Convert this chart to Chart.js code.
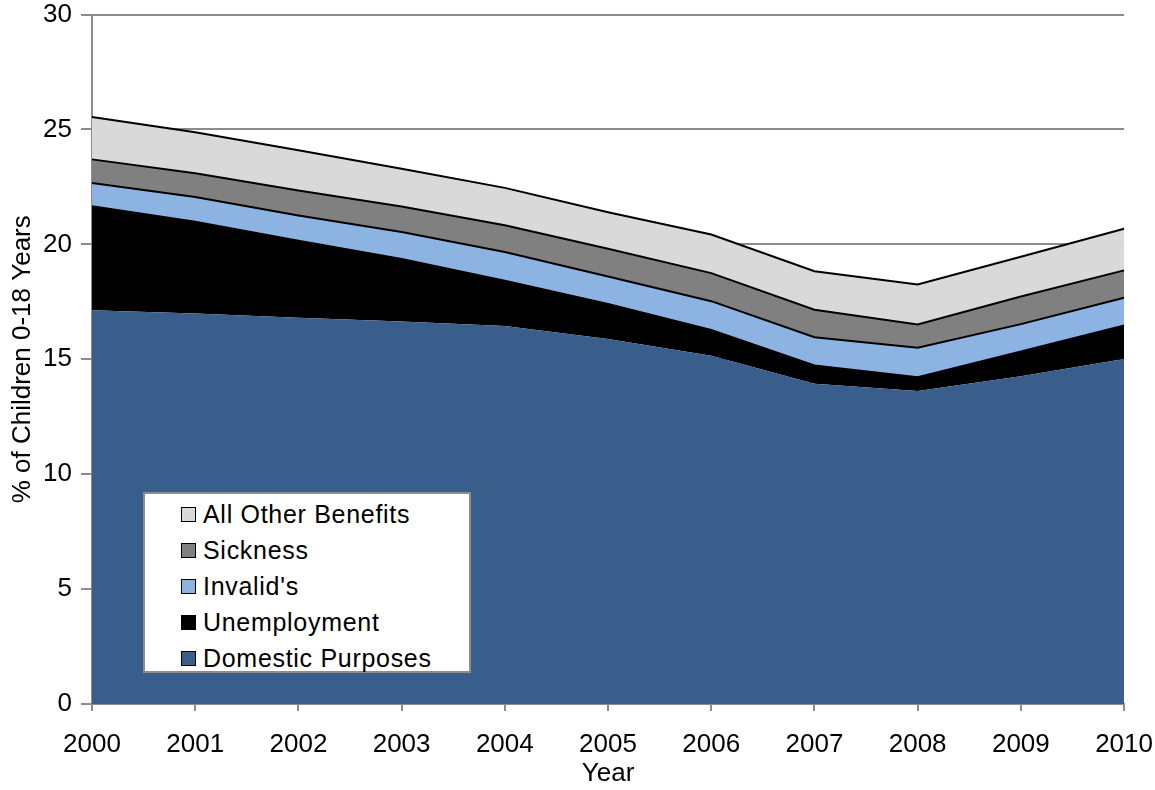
<!DOCTYPE html>
<html>
<head>
<meta charset="utf-8">
<script src="https://cdn.jsdelivr.net/npm/chart.js@4/dist/chart.umd.min.js"></script>
<style>
  html, body { margin: 0; padding: 0; background: #fff; }
  #wrap { position: relative; width: 1155px; height: 790px; overflow: hidden; }
  /* canvas is a little larger than the page so the label overflow padding falls outside */
  #chart { position: absolute; left: 0; top: -10px; }
  #legend {
    position: absolute; left: 143px; top: 492px; width: 328px; height: 181px;
    background: #fff; border: 2px solid #8c8c8c; box-sizing: border-box;
    font-family: "Liberation Sans", Arial, sans-serif; font-size: 25px; color: #000;
    padding-top: 2px;
  }
  .item { height: 36px; display: flex; align-items: center; padding-left: 36px; letter-spacing: 0.7px; }
  .swatch { width: 13px; height: 13px; border: 1px solid #000; margin-right: 7px; }
</style>
</head>
<body>
<div id="wrap">
  <canvas id="chart" width="1171" height="800"></canvas>
  <div id="legend"></div>
</div>
<script>
const years = ["2000", "2001", "2002", "2003", "2004", "2005", "2006", "2007", "2008", "2009", "2010"];

// percentage of children 0-18 in benefit-receiving families, by benefit type
const domesticPurposes = [17.13, 16.99, 16.81, 16.64, 16.45, 15.88, 15.15, 13.94, 13.62, 14.26, 15.01];
const unemployment     = [4.54, 4.01, 3.36, 2.74, 1.98, 1.54, 1.14, 0.80, 0.61, 1.09, 1.47];
const invalids         = [1.00, 1.06, 1.09, 1.16, 1.24, 1.18, 1.24, 1.22, 1.27, 1.18, 1.20];
const sickness         = [1.03, 1.04, 1.09, 1.11, 1.16, 1.21, 1.22, 1.20, 1.02, 1.20, 1.19];
const allOther         = [1.84, 1.78, 1.75, 1.64, 1.63, 1.59, 1.68, 1.67, 1.74, 1.73, 1.81];

const yTicks = [0, 5, 10, 15, 20, 25, 30];

const series = [
  { label: "Domestic Purposes", data: domesticPurposes, color: "#3a5e8c", border: 0 },
  { label: "Unemployment", data: unemployment, color: "#000000", border: 1.5 },
  { label: "Invalid's", data: invalids, color: "#8db3e2", border: 2 },
  { label: "Sickness", data: sickness, color: "#808080", border: 2 },
  { label: "All Other Benefits", data: allOther, color: "#d9d9d9", border: 2 }
];

const font = { family: "'Liberation Sans', Arial, sans-serif", size: 26 };

new Chart(document.getElementById("chart"), {
  type: "line",
  data: {
    labels: years,
    datasets: series.map((s, i) => ({
      label: s.label,
      data: s.data,
      backgroundColor: s.color,
      borderColor: "#000",
      borderWidth: s.border,
      pointRadius: 0,
      tension: 0,
      fill: i === 0 ? "origin" : "-1"
    }))
  },
  options: {
    responsive: false,
    animation: false,
    layout: { padding: { top: 9, right: 29, left: 3, bottom: 0 } },
    plugins: { legend: { display: false }, tooltip: { enabled: false } },
    scales: {
      x: {
        offset: false,
        grid: { drawOnChartArea: false, color: "#8c8c8c", tickLength: 7, lineWidth: 2 },
        border: { color: "#8c8c8c", width: 2 },
        ticks: { color: "#000", font: font, padding: 18, maxRotation: 0, autoSkip: false },
        title: { display: true, text: "Year", color: "#000", font: font, padding: { top: 0, bottom: 1 } },
        afterFit: scale => { scale.height = 86; }
      },
      y: {
        stacked: true,
        min: 0, max: 30,
        afterBuildTicks: scale => { scale.ticks = yTicks.map(v => ({ value: v })); },
        grid: { color: "#8c8c8c", lineWidth: 2, tickLength: 11 },
        border: { color: "#8c8c8c", width: 2 },
        ticks: { color: "#000", font: font, padding: 9 },
        title: { display: true, text: "% of Children 0-18 Years", color: "#000", font: font, padding: { bottom: 2 } },
        afterFit: scale => { scale.width = 89; }
      }
    }
  }
});

// legend box inside the plot, top series first
const legend = document.getElementById("legend");
series.slice().reverse().forEach(s => {
  const row = document.createElement("div");
  row.className = "item";
  row.innerHTML = `<span class="swatch" style="background:${s.color}"></span>${s.label}`;
  legend.appendChild(row);
});
</script>
</body>
</html>
